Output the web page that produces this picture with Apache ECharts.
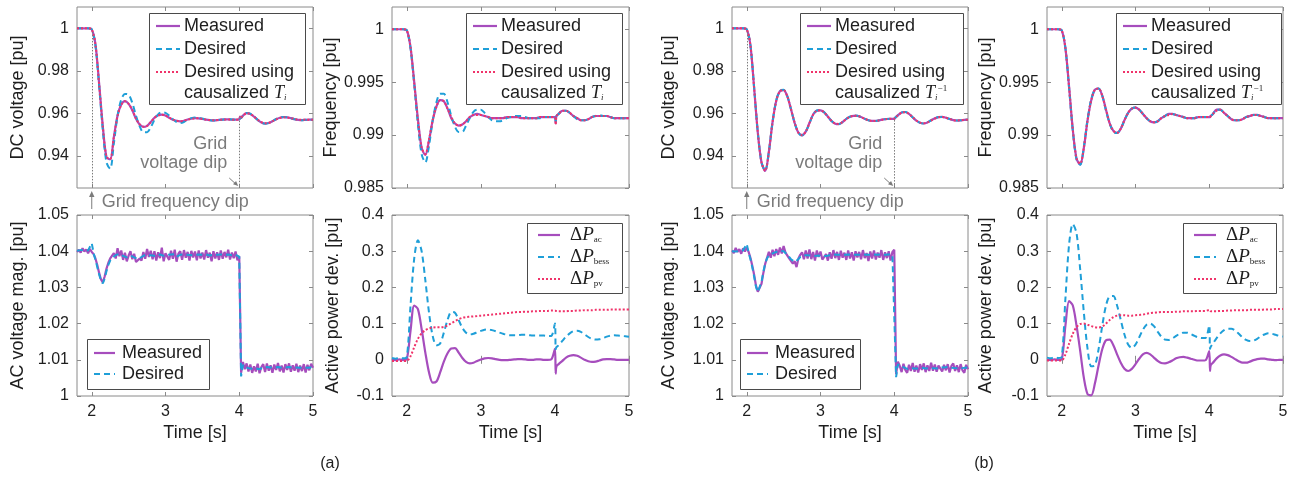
<!DOCTYPE html>
<html>
<head>
<meta charset="utf-8">
<script src="https://cdn.jsdelivr.net/npm/echarts@6/dist/echarts.min.js"></script>
<style>
  html, body { margin: 0; padding: 0; background: #fff; }
  #chart { width: 1303px; height: 479px; }
</style>
</head>
<body>
<div id="chart"></div>
<script>
// ---------------------------------------------------------------------------
// Sample times [s]
// ---------------------------------------------------------------------------
const T = [
  1.80,1.85,1.90,1.95,2.00,2.05,2.10,2.15,2.20,2.25,
  2.30,2.35,2.40,2.45,2.50,2.55,2.60,2.65,2.70,2.75,
  2.80,2.85,2.90,2.95,3.00,3.05,3.10,3.15,3.20,3.25,
  3.30,3.35,3.40,3.45,3.50,3.55,3.60,3.65,3.70,3.75,
  3.80,3.85,3.90,3.95,4.00,4.01,4.02,
  4.05,4.10,4.15,4.20,4.25,4.30,4.35,4.40,4.45,4.50,
  4.55,4.60,4.65,4.70,4.75,4.80,4.85,4.90,4.95,5.00
];
const T_AC = [
  1.800,1.825,1.850,1.875,1.900,1.925,1.950,1.975,2.000,2.025,
  2.050,2.075,2.100,2.125,2.150,2.175,2.200,2.225,2.250,2.275,
  2.300,2.325,2.350,2.375,2.400,2.425,2.450,2.475,2.500,2.525,
  2.550,2.575,2.600,2.625,2.650,2.675,2.700,2.725,2.750,2.775,
  2.800,2.825,2.850,2.875,2.900,2.925,2.950,2.975,3.000,3.025,
  3.050,3.075,3.100,3.125,3.150,3.175,3.200,3.225,3.250,3.275,
  3.300,3.325,3.350,3.375,3.400,3.425,3.450,3.475,3.500,3.525,
  3.550,3.575,3.600,3.625,3.650,3.675,3.700,3.725,3.750,3.775,
  3.800,3.825,3.850,3.875,3.900,3.925,3.950,3.975,4.000,4.025,
  4.050,4.075,4.100,4.125,4.150,4.175,4.200,4.225,4.250,4.275,
  4.300,4.325,4.350,4.375,4.400,4.425,4.450,4.475,4.500,4.525,
  4.550,4.575,4.600,4.625,4.650,4.675,4.700,4.725,4.750,4.775,
  4.800,4.825,4.850,4.875,4.900,4.925,4.950,4.975,5.000
];

// ---------------------------------------------------------------------------
// (a) DC voltage [pu]
// ---------------------------------------------------------------------------
const dcA_measured = [
  1.000,1.000,1.000,1.000,0.9995,0.9925,0.9740,0.9540,0.9395,0.9385,
  0.9490,0.9590,0.9642,0.9658,0.9645,0.9615,0.9575,0.9548,0.9537,0.9542,
  0.9560,0.9580,0.9592,0.9595,0.9590,0.9580,0.9570,0.9565,0.9563,0.9566,
  0.9572,0.9576,0.9578,0.9577,0.9574,0.9571,0.9569,0.9568,0.9569,0.9571,
  0.9572,0.9572,0.9571,0.9571,0.9572,0.9585,0.9578,
  0.9590,0.9602,0.9598,0.9585,0.9570,0.9558,0.9553,0.9555,0.9563,0.9573,
  0.9580,0.9583,0.9582,0.9578,0.9573,0.9570,0.9569,0.9570,0.9571,0.9571
];
const dcA_desired = [
  1.000,1.000,1.000,1.000,0.9995,0.9920,0.9730,0.9520,0.9370,0.9340,
  0.9460,0.9590,0.9665,0.9692,0.9688,0.9650,0.9590,0.9540,0.9512,0.9512,
  0.9535,0.9570,0.9596,0.9606,0.9603,0.9590,0.9573,0.9560,0.9555,0.9560,
  0.9570,0.9578,0.9581,0.9580,0.9576,0.9571,0.9568,0.9567,0.9568,0.9570,
  0.9572,0.9573,0.9572,0.9571,0.9572,0.9580,0.9578,
  0.9588,0.9602,0.9599,0.9586,0.9570,0.9557,0.9552,0.9555,0.9564,0.9574,
  0.9581,0.9584,0.9582,0.9578,0.9573,0.9569,0.9568,0.9570,0.9571,0.9571
];
const dcA_causal = [
  1.000,1.000,1.000,1.000,0.9995,0.9924,0.9738,0.9538,0.9396,0.9386,
  0.9488,0.9588,0.9641,0.9657,0.9645,0.9616,0.9576,0.9549,0.9538,0.9542,
  0.9559,0.9579,0.9591,0.9594,0.9590,0.9580,0.9571,0.9566,0.9564,0.9566,
  0.9571,0.9575,0.9577,0.9577,0.9574,0.9571,0.9569,0.9568,0.9569,0.9570,
  0.9571,0.9572,0.9571,0.9571,0.9572,0.9584,0.9578,
  0.9589,0.9601,0.9598,0.9585,0.9571,0.9559,0.9554,0.9556,0.9563,0.9572,
  0.9579,0.9582,0.9581,0.9578,0.9574,0.9571,0.9570,0.9570,0.9571,0.9571
];

// (a) Frequency [pu]
const fA_measured = [
  1.0000,1.0000,1.0000,1.0000,0.9999,0.9983,0.9950,0.9915,0.9888,0.9881,
  0.9895,0.9914,0.9927,0.9933,0.9932,0.9925,0.9916,0.9911,0.9909,0.9910,
  0.9913,0.9917,0.9919,0.9920,0.9919,0.9918,0.9917,0.9916,0.9916,0.9916,
  0.9916,0.9917,0.9917,0.9917,0.9917,0.9916,0.9916,0.9916,0.9916,0.9916,
  0.9917,0.9917,0.9917,0.9917,0.9917,0.9911,0.9918,
  0.9920,0.9923,0.9923,0.9921,0.9918,0.9916,0.9914,0.9914,0.9915,0.9917,
  0.9918,0.9918,0.9918,0.9918,0.9917,0.9916,0.9916,0.9916,0.9916,0.9916
];
const fA_desired = [
  1.0000,1.0000,1.0000,1.0000,0.9999,0.9982,0.9948,0.9910,0.9882,0.9874,
  0.9890,0.9914,0.9931,0.9939,0.9939,0.9931,0.9918,0.9908,0.9903,0.9903,
  0.9909,0.9916,0.9922,0.9924,0.9924,0.9921,0.9917,0.9914,0.9913,0.9913,
  0.9914,0.9916,0.9917,0.9918,0.9918,0.9918,0.9917,0.9916,0.9916,0.9916,
  0.9916,0.9917,0.9917,0.9917,0.9917,0.9913,0.9918,
  0.9920,0.9923,0.9923,0.9921,0.9918,0.9915,0.9914,0.9914,0.9915,0.9917,
  0.9918,0.9919,0.9918,0.9918,0.9917,0.9916,0.9916,0.9916,0.9916,0.9916
];
const fA_causal = [
  1.0000,1.0000,1.0000,1.0000,0.9999,0.9983,0.9949,0.9914,0.9888,0.9882,
  0.9896,0.9914,0.9927,0.9933,0.9932,0.9925,0.9917,0.9911,0.9909,0.9910,
  0.9913,0.9917,0.9919,0.9919,0.9919,0.9918,0.9917,0.9916,0.9916,0.9916,
  0.9916,0.9917,0.9917,0.9917,0.9917,0.9916,0.9916,0.9916,0.9916,0.9916,
  0.9917,0.9917,0.9917,0.9917,0.9917,0.9910,0.9918,
  0.9920,0.9923,0.9923,0.9921,0.9918,0.9916,0.9914,0.9914,0.9915,0.9917,
  0.9918,0.9918,0.9918,0.9918,0.9917,0.9916,0.9916,0.9916,0.9916,0.9916
];

// (a) AC voltage magnitude [pu]
const acA_measured = [
  1.0398,1.0404,1.0396,1.0408,1.0399,1.0405,1.0394,1.0406,1.0398,1.0392,
  1.0380,1.0362,1.0340,1.0322,1.0314,1.0330,1.0352,1.0368,1.0380,1.0378,
  1.0395,1.0380,1.0408,1.0386,1.0402,1.0376,1.0396,1.0372,1.0388,1.0400,
  1.0378,1.0393,1.0370,1.0366,1.0380,1.0374,1.0398,1.0379,1.0406,1.0384,
  1.0401,1.0378,1.0400,1.0374,1.0397,1.0381,1.0410,1.0372,1.0394,1.0399,
  1.0376,1.0401,1.0379,1.0404,1.0371,1.0393,1.0400,1.0376,1.0403,1.0382,
  1.0398,1.0374,1.0401,1.0383,1.0399,1.0375,1.0402,1.0380,1.0396,1.0377,
  1.0403,1.0382,1.0396,1.0372,1.0400,1.0380,1.0397,1.0376,1.0402,1.0379,
  1.0398,1.0383,1.0404,1.0377,1.0396,1.0381,1.0399,1.0375,1.0386,1.0064,
  1.0094,1.0074,1.0090,1.0068,1.0087,1.0064,1.0082,1.0068,1.0089,1.0063,
  1.0080,1.0088,1.0066,1.0090,1.0070,1.0085,1.0064,1.0087,1.0072,1.0091,
  1.0068,1.0084,1.0065,1.0088,1.0072,1.0090,1.0067,1.0085,1.0070,1.0089,
  1.0066,1.0084,1.0069,1.0088,1.0065,1.0086,1.0071,1.0089,1.0078
];
const acA_desired = [
  1.0401,1.0398,1.0403,1.0400,1.0404,1.0399,1.0402,1.0397,1.0422,1.0395,
  1.0376,1.0356,1.0336,1.0319,1.0311,1.0324,1.0345,1.0362,1.0374,1.0381,
  1.0386,1.0389,1.0391,1.0393,1.0390,1.0387,1.0384,1.0383,1.0385,1.0388,
  1.0386,1.0383,1.0380,1.0378,1.0381,1.0384,1.0388,1.0390,1.0392,1.0389,
  1.0391,1.0388,1.0390,1.0386,1.0389,1.0391,1.0393,1.0387,1.0386,1.0390,
  1.0388,1.0391,1.0389,1.0392,1.0385,1.0387,1.0390,1.0388,1.0391,1.0389,
  1.0390,1.0386,1.0389,1.0391,1.0390,1.0387,1.0391,1.0389,1.0390,1.0387,
  1.0391,1.0389,1.0388,1.0386,1.0390,1.0389,1.0390,1.0387,1.0391,1.0389,
  1.0390,1.0389,1.0391,1.0388,1.0389,1.0388,1.0390,1.0387,1.0385,1.0054,
  1.0086,1.0080,1.0082,1.0077,1.0080,1.0075,1.0078,1.0076,1.0080,1.0074,
  1.0077,1.0079,1.0075,1.0080,1.0077,1.0079,1.0074,1.0078,1.0077,1.0080,
  1.0076,1.0078,1.0075,1.0079,1.0077,1.0080,1.0076,1.0078,1.0077,1.0079,
  1.0075,1.0078,1.0076,1.0079,1.0075,1.0078,1.0077,1.0079,1.0078
];

// (a) Active power deviation [pu]
const pA_ac = [
  0.002,-0.001,0.001,-0.001,0.002,0.080,0.150,0.140,0.085,0.020,
  -0.035,-0.063,-0.060,-0.035,-0.005,0.018,0.031,0.032,0.020,0.005,
  -0.006,-0.010,-0.008,-0.003,0.001,0.004,0.005,0.004,0.002,0.000,
  -0.001,-0.001,0.000,0.001,0.002,0.002,0.001,0.000,0.000,0.001,
  0.001,0.000,0.000,0.001,0.030,-0.038,-0.018,
  -0.012,-0.003,0.006,0.011,0.013,0.011,0.006,0.000,-0.004,-0.006,
  -0.005,-0.002,0.001,0.002,0.002,0.001,0.000,0.000,0.000,0.000
];
const pA_bess = [
  0.005,0.003,0.006,0.004,0.008,0.150,0.280,0.330,0.300,0.220,
  0.130,0.065,0.040,0.045,0.075,0.110,0.132,0.130,0.110,0.088,
  0.075,0.070,0.072,0.076,0.080,0.083,0.084,0.082,0.079,0.075,
  0.072,0.069,0.068,0.068,0.068,0.069,0.069,0.068,0.067,0.067,
  0.067,0.067,0.066,0.066,0.100,0.029,0.035,
  0.040,0.052,0.064,0.073,0.079,0.080,0.077,0.070,0.063,0.058,
  0.056,0.057,0.060,0.064,0.067,0.068,0.067,0.066,0.065,0.064
];
const pA_pv = [
  -0.003,-0.003,-0.003,-0.003,-0.003,0.010,0.035,0.058,0.073,0.082,
  0.087,0.089,0.090,0.090,0.091,0.095,0.101,0.107,0.112,0.116,
  0.118,0.119,0.120,0.121,0.122,0.123,0.124,0.125,0.126,0.127,
  0.128,0.129,0.130,0.131,0.132,0.132,0.133,0.133,0.134,0.134,
  0.135,0.135,0.135,0.136,0.136,0.135,0.135,
  0.134,0.134,0.134,0.135,0.135,0.136,0.136,0.137,0.137,0.137,
  0.138,0.138,0.138,0.138,0.139,0.139,0.139,0.139,0.139,0.139
];

// ---------------------------------------------------------------------------
// (b) DC voltage [pu]
// ---------------------------------------------------------------------------
const dcB_measured = [
  1.000,1.000,1.000,1.000,0.9995,0.9920,0.9720,0.9510,0.9370,0.9330,
  0.9420,0.9560,0.9660,0.9705,0.9710,0.9680,0.9620,0.9555,0.9510,0.9498,
  0.9515,0.9555,0.9595,0.9613,0.9615,0.9605,0.9585,0.9565,0.9552,0.9550,
  0.9560,0.9575,0.9585,0.9589,0.9589,0.9583,0.9575,0.9568,0.9565,0.9565,
  0.9568,0.9572,0.9574,0.9575,0.9575,0.9580,0.9582,
  0.9592,0.9605,0.9607,0.9598,0.9582,0.9566,0.9556,0.9553,0.9558,0.9568,
  0.9577,0.9583,0.9584,0.9580,0.9574,0.9569,0.9567,0.9568,0.9570,0.9571
];
const dcB_desired = [
  1.000,1.000,1.000,1.000,0.9995,0.9921,0.9722,0.9512,0.9371,0.9331,
  0.9421,0.9561,0.9661,0.9706,0.9711,0.9681,0.9620,0.9555,0.9509,0.9497,
  0.9514,0.9554,0.9595,0.9614,0.9616,0.9606,0.9585,0.9565,0.9552,0.9550,
  0.9560,0.9575,0.9585,0.9590,0.9589,0.9583,0.9575,0.9568,0.9565,0.9565,
  0.9568,0.9572,0.9574,0.9575,0.9575,0.9579,0.9582,
  0.9592,0.9605,0.9607,0.9598,0.9582,0.9566,0.9556,0.9553,0.9558,0.9568,
  0.9577,0.9583,0.9584,0.9580,0.9574,0.9569,0.9567,0.9568,0.9570,0.9571
];
const dcB_causal = [
  1.000,1.000,1.000,1.000,0.9995,0.9920,0.9721,0.9511,0.9371,0.9331,
  0.9420,0.9560,0.9660,0.9705,0.9710,0.9680,0.9620,0.9556,0.9510,0.9498,
  0.9515,0.9555,0.9594,0.9613,0.9615,0.9605,0.9585,0.9565,0.9553,0.9551,
  0.9560,0.9574,0.9584,0.9589,0.9589,0.9583,0.9575,0.9568,0.9565,0.9565,
  0.9568,0.9572,0.9574,0.9575,0.9575,0.9580,0.9582,
  0.9591,0.9604,0.9606,0.9598,0.9582,0.9567,0.9557,0.9554,0.9558,0.9567,
  0.9576,0.9582,0.9583,0.9580,0.9574,0.9569,0.9567,0.9568,0.9570,0.9571
];

// (b) Frequency [pu]
const fB_measured = [
  1.0000,1.0000,1.0000,1.0000,0.9999,0.9982,0.9945,0.9905,0.9878,0.9872,
  0.9888,0.9914,0.9933,0.9943,0.9944,0.9937,0.9924,0.9911,0.9904,0.9902,
  0.9906,0.9914,0.9921,0.9925,0.9926,0.9924,0.9920,0.9916,0.9913,0.9912,
  0.9913,0.9916,0.9918,0.9920,0.9920,0.9919,0.9918,0.9917,0.9916,0.9916,
  0.9916,0.9917,0.9917,0.9917,0.9917,0.9917,0.9918,
  0.9920,0.9924,0.9924,0.9921,0.9918,0.9915,0.9914,0.9914,0.9915,0.9917,
  0.9918,0.9919,0.9919,0.9918,0.9917,0.9916,0.9916,0.9916,0.9916,0.9916
];
const fB_desired = [
  1.0000,1.0000,1.0000,1.0000,0.9999,0.9982,0.9944,0.9904,0.9877,0.9872,
  0.9889,0.9915,0.9934,0.9943,0.9944,0.9937,0.9923,0.9911,0.9903,0.9902,
  0.9906,0.9914,0.9921,0.9925,0.9926,0.9924,0.9920,0.9916,0.9913,0.9912,
  0.9913,0.9916,0.9918,0.9920,0.9920,0.9919,0.9918,0.9917,0.9916,0.9916,
  0.9916,0.9917,0.9917,0.9917,0.9917,0.9917,0.9918,
  0.9920,0.9924,0.9924,0.9921,0.9918,0.9915,0.9914,0.9914,0.9915,0.9917,
  0.9918,0.9919,0.9919,0.9918,0.9917,0.9916,0.9916,0.9916,0.9916,0.9916
];
const fB_causal = [
  1.0000,1.0000,1.0000,1.0000,0.9999,0.9982,0.9945,0.9905,0.9878,0.9873,
  0.9888,0.9914,0.9933,0.9943,0.9944,0.9937,0.9924,0.9911,0.9904,0.9902,
  0.9906,0.9914,0.9921,0.9925,0.9926,0.9924,0.9920,0.9916,0.9913,0.9912,
  0.9913,0.9916,0.9918,0.9919,0.9920,0.9919,0.9918,0.9917,0.9916,0.9916,
  0.9916,0.9917,0.9917,0.9917,0.9917,0.9917,0.9918,
  0.9920,0.9923,0.9924,0.9921,0.9918,0.9915,0.9914,0.9914,0.9915,0.9917,
  0.9918,0.9919,0.9919,0.9918,0.9917,0.9916,0.9916,0.9916,0.9916,0.9916
];

// (b) AC voltage magnitude [pu]
const acB_measured = [
  1.0402,1.0395,1.0409,1.0398,1.0406,1.0393,1.0408,1.0399,1.0410,1.0398,
  1.0382,1.0360,1.0335,1.0305,1.0288,1.0285,1.0310,1.0340,1.0365,1.0382,
  1.0398,1.0382,1.0404,1.0386,1.0406,1.0390,1.0410,1.0394,1.0414,1.0396,
  1.0394,1.0380,1.0382,1.0366,1.0372,1.0356,1.0380,1.0390,1.0397,1.0378,
  1.0402,1.0380,1.0405,1.0378,1.0398,1.0374,1.0402,1.0384,1.0399,1.0377,
  1.0372,1.0392,1.0374,1.0397,1.0379,1.0403,1.0381,1.0398,1.0376,1.0401,
  1.0382,1.0396,1.0376,1.0402,1.0380,1.0397,1.0374,1.0400,1.0383,1.0398,
  1.0378,1.0403,1.0381,1.0395,1.0373,1.0399,1.0380,1.0402,1.0377,1.0396,
  1.0382,1.0403,1.0376,1.0397,1.0381,1.0400,1.0374,1.0398,1.0404,1.0060,
  1.0095,1.0083,1.0066,1.0089,1.0072,1.0064,1.0086,1.0069,1.0091,1.0067,
  1.0084,1.0065,1.0088,1.0072,1.0090,1.0066,1.0085,1.0069,1.0092,1.0070,
  1.0087,1.0067,1.0084,1.0089,1.0068,1.0086,1.0071,1.0088,1.0065,1.0083,
  1.0090,1.0069,1.0085,1.0066,1.0088,1.0071,1.0064,1.0086,1.0074
];
const acB_desired = [
  1.0400,1.0402,1.0399,1.0403,1.0401,1.0400,1.0402,1.0404,1.0420,1.0396,
  1.0378,1.0356,1.0330,1.0302,1.0287,1.0290,1.0315,1.0343,1.0366,1.0380,
  1.0388,1.0392,1.0394,1.0396,1.0398,1.0400,1.0401,1.0401,1.0400,1.0396,
  1.0390,1.0384,1.0378,1.0373,1.0370,1.0372,1.0378,1.0384,1.0388,1.0389,
  1.0390,1.0389,1.0391,1.0388,1.0390,1.0387,1.0389,1.0388,1.0390,1.0386,
  1.0385,1.0387,1.0386,1.0389,1.0388,1.0391,1.0389,1.0390,1.0388,1.0390,
  1.0389,1.0390,1.0387,1.0391,1.0388,1.0390,1.0387,1.0390,1.0389,1.0390,
  1.0388,1.0391,1.0389,1.0390,1.0387,1.0390,1.0388,1.0391,1.0388,1.0390,
  1.0389,1.0391,1.0388,1.0390,1.0389,1.0391,1.0387,1.0390,1.0394,1.0052,
  1.0088,1.0081,1.0076,1.0080,1.0078,1.0075,1.0079,1.0077,1.0080,1.0076,
  1.0078,1.0076,1.0080,1.0078,1.0081,1.0076,1.0079,1.0077,1.0080,1.0077,
  1.0079,1.0076,1.0078,1.0080,1.0077,1.0079,1.0077,1.0080,1.0076,1.0078,
  1.0080,1.0077,1.0079,1.0076,1.0079,1.0077,1.0076,1.0079,1.0077
];

// (b) Active power deviation [pu]
const pB_ac = [
  0.001,-0.001,0.001,0.000,0.002,0.095,0.162,0.150,0.095,0.025,
  -0.050,-0.095,-0.098,-0.065,-0.015,0.030,0.054,0.056,0.040,0.015,
  -0.008,-0.025,-0.031,-0.025,-0.012,0.003,0.015,0.019,0.015,0.006,
  -0.003,-0.009,-0.010,-0.007,-0.002,0.004,0.007,0.008,0.006,0.003,
  0.000,-0.002,-0.002,-0.001,0.024,-0.031,-0.015,
  -0.008,0.004,0.012,0.015,0.013,0.008,0.002,-0.004,-0.008,-0.008,
  -0.005,-0.001,0.002,0.003,0.003,0.001,0.000,-0.001,0.000,0.000
];
const pB_bess = [
  0.006,0.004,0.007,0.005,0.008,0.170,0.320,0.375,0.350,0.250,
  0.130,0.030,-0.018,-0.015,0.030,0.095,0.150,0.175,0.176,0.150,
  0.110,0.070,0.042,0.033,0.042,0.062,0.083,0.097,0.100,0.093,
  0.078,0.064,0.056,0.055,0.059,0.066,0.072,0.075,0.075,0.071,
  0.066,0.062,0.060,0.060,0.095,0.030,0.036,
  0.045,0.060,0.073,0.082,0.086,0.086,0.081,0.072,0.062,0.055,
  0.052,0.053,0.058,0.065,0.070,0.073,0.072,0.069,0.066,0.064
];
const pB_pv = [
  -0.002,-0.002,-0.002,-0.002,-0.002,0.015,0.045,0.072,0.090,0.099,
  0.100,0.097,0.093,0.090,0.089,0.092,0.100,0.110,0.118,0.122,
  0.123,0.123,0.122,0.122,0.123,0.124,0.125,0.127,0.129,0.130,
  0.131,0.132,0.132,0.132,0.132,0.133,0.133,0.134,0.134,0.134,
  0.134,0.135,0.135,0.135,0.138,0.135,0.134,
  0.134,0.134,0.135,0.135,0.136,0.136,0.137,0.137,0.137,0.137,
  0.138,0.138,0.138,0.138,0.139,0.139,0.139,0.140,0.140,0.140
];

// ---------------------------------------------------------------------------
// Axis ranges and tick values
// ---------------------------------------------------------------------------
const X_RANGE = [1.8, 5];
const X_TICKS = [2, 3, 4, 5];
const DC_RANGE = [0.925, 1.01];
const DC_TICKS = [0.94, 0.96, 0.98, 1];
const FREQ_RANGE = [0.985, 1.0021];
const FREQ_TICKS = [0.985, 0.99, 0.995, 1];
const AC_RANGE = [1, 1.05];
const AC_TICKS = [1, 1.01, 1.02, 1.03, 1.04, 1.05];
const P_RANGE = [-0.1, 0.4];
const P_TICKS = [-0.1, 0, 0.1, 0.2, 0.3, 0.4];

// Event instants marked on the DC-voltage plots [s]
const FREQ_DIP_TIME = 2;
const VOLT_DIP_TIME = 4;

// ---------------------------------------------------------------------------
// Styling
// ---------------------------------------------------------------------------
const SANS = '"Liberation Sans", Arial, sans-serif';
const SERIF = '"Liberation Serif", "Times New Roman", serif';
const TEXT = '#1e1e1e';
const AXIS_GRAY = '#8a8a8a';
const NOTE = '#7b7b7b';
const STYLE = {
  meas: { color: '#a64dbd', type: 'solid', width: 2.2 },
  des:  { color: '#1f9fd8', type: [6, 4], width: 2 },
  caus: { color: '#f0336a', type: [2, 2], width: 2 }
};

const PANELS = [
  { grid: { left: 77,   top: 7,   width: 236, height: 181 }, range: DC_RANGE,   ticks: DC_TICKS,   name: 'DC voltage [pu]',        gap: 50, time: false },
  { grid: { left: 392,  top: 7,   width: 237, height: 181 }, range: FREQ_RANGE, ticks: FREQ_TICKS, name: 'Frequency [pu]',         gap: 50, time: false },
  { grid: { left: 77,   top: 215, width: 236, height: 181 }, range: AC_RANGE,   ticks: AC_TICKS,   name: 'AC voltage mag. [pu]',   gap: 50, time: true },
  { grid: { left: 392,  top: 215, width: 237, height: 181 }, range: P_RANGE,    ticks: P_TICKS,    name: 'Active power dev. [pu]', gap: 50, time: true },
  { grid: { left: 732,  top: 7,   width: 236, height: 181 }, range: DC_RANGE,   ticks: DC_TICKS,   name: 'DC voltage [pu]',        gap: 54, time: false },
  { grid: { left: 1047, top: 7,   width: 236, height: 181 }, range: FREQ_RANGE, ticks: FREQ_TICKS, name: 'Frequency [pu]',         gap: 50, time: false },
  { grid: { left: 732,  top: 215, width: 236, height: 181 }, range: AC_RANGE,   ticks: AC_TICKS,   name: 'AC voltage mag. [pu]',   gap: 54, time: true },
  { grid: { left: 1047, top: 215, width: 236, height: 181 }, range: P_RANGE,    ticks: P_TICKS,    name: 'Active power dev. [pu]', gap: 52, time: true }
];

const fmt = v => String(+(+v).toFixed(4));

const grids = [], xAxes = [], yAxes = [];
PANELS.forEach((p, i) => {
  grids.push(Object.assign({ show: true, borderColor: AXIS_GRAY, borderWidth: 1, backgroundColor: 'transparent' }, p.grid));
  const tick = { show: true, inside: true, length: 4, lineStyle: { color: AXIS_GRAY, width: 1 } };
  const xBase = { type: 'value', gridIndex: i, min: X_RANGE[0], max: X_RANGE[1], splitLine: { show: false }, axisLine: { show: false } };
  xAxes.push(Object.assign({}, xBase, {
    position: 'bottom',
    axisTick: Object.assign({ customValues: X_TICKS }, tick),
    axisLabel: { show: p.time, customValues: X_TICKS, formatter: fmt, fontSize: 16, color: TEXT, fontFamily: SANS, margin: 8 },
    name: p.time ? 'Time [s]' : '', nameLocation: 'middle', nameGap: 28,
    nameTextStyle: { fontSize: 18, color: TEXT, fontFamily: SANS }
  }));
  xAxes.push(Object.assign({}, xBase, {
    position: 'top',
    axisTick: Object.assign({ customValues: X_TICKS }, tick),
    axisLabel: { show: false }
  }));
  const yBase = { type: 'value', gridIndex: i, min: p.range[0], max: p.range[1], splitLine: { show: false }, axisLine: { show: false } };
  yAxes.push(Object.assign({}, yBase, {
    position: 'left',
    axisTick: Object.assign({ customValues: p.ticks }, tick),
    axisLabel: { customValues: p.ticks, formatter: fmt, fontSize: 16, color: TEXT, fontFamily: SANS, margin: 8 },
    name: p.name, nameLocation: 'middle', nameRotate: 90, nameGap: p.gap,
    nameTextStyle: { fontSize: 18, color: TEXT, fontFamily: SANS }
  }));
  yAxes.push(Object.assign({}, yBase, {
    position: 'right',
    axisTick: Object.assign({ customValues: p.ticks }, tick),
    axisLabel: { show: false }
  }));
});

function zip(ts, vs) { return ts.map((t, k) => [t, vs[k]]); }
function valueAt(ts, vs, t) { return vs[ts.indexOf(t)]; }

function line(name, panel, ts, vs, style, smooth, extra) {
  return Object.assign({
    type: 'line', name,
    xAxisIndex: 2 * panel, yAxisIndex: 2 * panel,
    data: zip(ts, vs),
    symbol: 'none', showSymbol: false, smooth: smooth,
    lineStyle: { color: style.color, width: style.width, type: style.type, cap: 'butt' },
    itemStyle: { color: style.color },
    silent: true, animation: false, clip: true
  }, extra || {});
}

// Dotted guides that drop from the DC-voltage trace to the axis at each event
function eventGuides(values) {
  return {
    silent: true, symbol: 'none', animation: false,
    label: { show: false },
    lineStyle: { color: NOTE, width: 1, type: [1.5, 1.5] },
    data: [
      [{ coord: [FREQ_DIP_TIME, valueAt(T, values, FREQ_DIP_TIME) - 0.0012] }, { coord: [FREQ_DIP_TIME, DC_RANGE[0]] }],
      [{ coord: [VOLT_DIP_TIME, valueAt(T, values, VOLT_DIP_TIME) - 0.0006] }, { coord: [VOLT_DIP_TIME, DC_RANGE[0]] }]
    ]
  };
}

const SM = 0.3;
const series = [
  // (a)
  line('Measured', 0, T, dcA_measured, STYLE.meas, SM, { markLine: eventGuides(dcA_measured) }),
  line('Desired', 0, T, dcA_desired, STYLE.des, SM),
  line('Desired using causalized Ti', 0, T, dcA_causal, STYLE.caus, SM),
  line('Measured', 1, T, fA_measured, STYLE.meas, SM),
  line('Desired', 1, T, fA_desired, STYLE.des, SM),
  line('Desired using causalized Ti', 1, T, fA_causal, STYLE.caus, SM),
  line('Measured', 2, T_AC, acA_measured, STYLE.meas, false),
  line('Desired', 2, T_AC, acA_desired, STYLE.des, false),
  line('ΔPac', 3, T, pA_ac, STYLE.meas, SM),
  line('ΔPbess', 3, T, pA_bess, STYLE.des, SM),
  line('ΔPpv', 3, T, pA_pv, STYLE.caus, SM),
  // (b)
  line('Measured', 4, T, dcB_measured, STYLE.meas, SM, { markLine: eventGuides(dcB_measured) }),
  line('Desired', 4, T, dcB_desired, STYLE.des, SM),
  line('Desired using causalized Ti^-1', 4, T, dcB_causal, STYLE.caus, SM),
  line('Measured', 5, T, fB_measured, STYLE.meas, SM),
  line('Desired', 5, T, fB_desired, STYLE.des, SM),
  line('Desired using causalized Ti^-1', 5, T, fB_causal, STYLE.caus, SM),
  line('Measured', 6, T_AC, acB_measured, STYLE.meas, false),
  line('Desired', 6, T_AC, acB_desired, STYLE.des, false),
  line('ΔPac', 7, T, pB_ac, STYLE.meas, SM),
  line('ΔPbess', 7, T, pB_bess, STYLE.des, SM),
  line('ΔPpv', 7, T, pB_pv, STYLE.caus, SM)
];

// ---------------------------------------------------------------------------
// Legend boxes (drawn as graphics so the two-line entry sits like the key)
// ---------------------------------------------------------------------------
const RICH = {
  n:  { fontFamily: SANS, fontSize: 18, color: TEXT },
  t:  { fontFamily: SERIF, fontStyle: 'italic', fontSize: 18, color: TEXT },
  s:  { fontFamily: SERIF, fontStyle: 'italic', fontSize: 9, color: TEXT, verticalAlign: 'bottom' },
  u:  { fontFamily: SERIF, fontSize: 9, color: TEXT, verticalAlign: 'top' },
  d:  { fontFamily: SERIF, fontSize: 19, color: TEXT },
  p:  { fontFamily: SERIF, fontStyle: 'italic', fontSize: 19, color: TEXT },
  r:  { fontFamily: SERIF, fontSize: 9, color: TEXT, verticalAlign: 'bottom' }
};

function legendBox(x, y, w, h, lineX, textX, rows) {
  const els = [{
    type: 'rect', z: 100, silent: true,
    shape: { x: Math.round(x) + 0.5, y: Math.round(y) + 0.5, width: w, height: h },
    style: { fill: '#fff', stroke: '#4a4a4a', lineWidth: 1 }
  }];
  rows.forEach(r => {
    if (r.style) {
      els.push({
        type: 'line', z: 101, silent: true,
        shape: { x1: x + lineX[0], y1: y + r.y, x2: x + lineX[1], y2: y + r.y },
        style: { stroke: r.style.color, lineWidth: r.style.width, lineDash: Array.isArray(r.style.type) ? r.style.type : null }
      });
    }
    els.push({
      type: 'text', z: 101, silent: true,
      style: { text: r.text, rich: RICH, x: x + textX, y: y + r.y, align: 'left', verticalAlign: 'middle',
               fontFamily: SANS, fontSize: 18, fill: TEXT }
    });
  });
  return els;
}

function gridRight(p) { return p.grid.left + p.grid.width; }
function gridBottom(p) { return p.grid.top + p.grid.height; }

function topLegend(p, w, inset, sup) {
  const causal = sup ? '{n|causalized }{t|T}{s|i}{u|−1}' : '{n|causalized }{t|T}{s|i}';
  return legendBox(gridRight(p) - inset - w, p.grid.top + 6, w, 91, [7, 31], 35, [
    { y: 13, style: STYLE.meas, text: '{n|Measured}' },
    { y: 36, style: STYLE.des, text: '{n|Desired}' },
    { y: 59, style: STYLE.caus, text: '{n|Desired using}' },
    { y: 80, text: causal }
  ]);
}
function acLegend(p, inset, w) {
  return legendBox(p.grid.left + inset, gridBottom(p) - 7 - 50, w, 50, [7, 28], 35, [
    { y: 14, style: STYLE.meas, text: '{n|Measured}' },
    { y: 35, style: STYLE.des, text: '{n|Desired}' }
  ]);
}
function powerLegend(p, w) {
  return legendBox(gridRight(p) - 7 - w, p.grid.top + 8, w, 70, [11, 33], 43, [
    { y: 12, style: STYLE.meas, text: '{d|Δ}{p|P}{r|ac}' },
    { y: 34, style: STYLE.des, text: '{d|Δ}{p|P}{r|bess}' },
    { y: 56, style: STYLE.caus, text: '{d|Δ}{p|P}{r|pv}' }
  ]);
}

const graphics = [].concat(
  topLegend(PANELS[0], 156, 8, false),
  topLegend(PANELS[1], 156, 7, false),
  acLegend(PANELS[2], 10, 122),
  powerLegend(PANELS[3], 95),
  topLegend(PANELS[4], 163, 5, true),
  topLegend(PANELS[5], 165, 2, true),
  acLegend(PANELS[6], 8, 120),
  powerLegend(PANELS[7], 93),
  [
    { type: 'text', silent: true, style: { text: '(a)', x: 330, y: 464, align: 'center', verticalAlign: 'middle', fontFamily: SANS, fontSize: 16, fill: TEXT } },
    { type: 'text', silent: true, style: { text: '(b)', x: 984, y: 464, align: 'center', verticalAlign: 'middle', fontFamily: SANS, fontSize: 16, fill: TEXT } }
  ]
);

const chart = echarts.init(document.getElementById('chart'), null, { renderer: 'canvas' });
chart.setOption({
  animation: false,
  backgroundColor: '#fff',
  grid: grids,
  xAxis: xAxes,
  yAxis: yAxes,
  series: series,
  graphic: graphics
});

// Event annotations on the DC-voltage plots, anchored to the axis positions
function arrowHead(x, y, dx, dy, size) {
  const len = Math.hypot(dx, dy), ux = dx / len, uy = dy / len;
  const bx = x - ux * size, by = y - uy * size;
  const px = -uy * size * 0.45, py = ux * size * 0.45;
  return { type: 'polygon', silent: true, z: 90, shape: { points: [[x, y], [bx + px, by + py], [bx - px, by - py]] }, style: { fill: NOTE } };
}
const notes = [];
[0, 4].forEach(pi => {
  const q = { xAxisIndex: 2 * pi, yAxisIndex: 2 * pi };
  const f = chart.convertToPixel(q, [FREQ_DIP_TIME, DC_RANGE[0]]);
  const v = chart.convertToPixel(q, [VOLT_DIP_TIME, DC_RANGE[0]]);
  notes.push({ type: 'line', silent: true, z: 90, shape: { x1: f[0], y1: f[1] + 21, x2: f[0], y2: f[1] + 8 }, style: { stroke: NOTE, lineWidth: 1 } });
  notes.push(arrowHead(f[0], f[1] + 3, 0, -1, 6));
  notes.push({ type: 'text', silent: true, style: { text: 'Grid frequency dip', x: f[0] + 10, y: f[1] + 14, align: 'left', verticalAlign: 'middle', fontFamily: SANS, fontSize: 18, fill: NOTE } });
  notes.push({ type: 'text', silent: true, style: { text: 'Grid\nvoltage dip', x: v[0] - 12, y: v[1] - 34, align: 'right', verticalAlign: 'middle', lineHeight: 19, fontFamily: SANS, fontSize: 18, fill: NOTE } });
  notes.push({ type: 'line', silent: true, z: 90, shape: { x1: v[0] - 10, y1: v[1] - 10, x2: v[0] - 4, y2: v[1] - 4.5 }, style: { stroke: NOTE, lineWidth: 1 } });
  notes.push(arrowHead(v[0] - 1, v[1] - 2, 1, 0.9, 5));
});
chart.setOption({ graphic: graphics.concat(notes) });
</script>
</body>
</html>
